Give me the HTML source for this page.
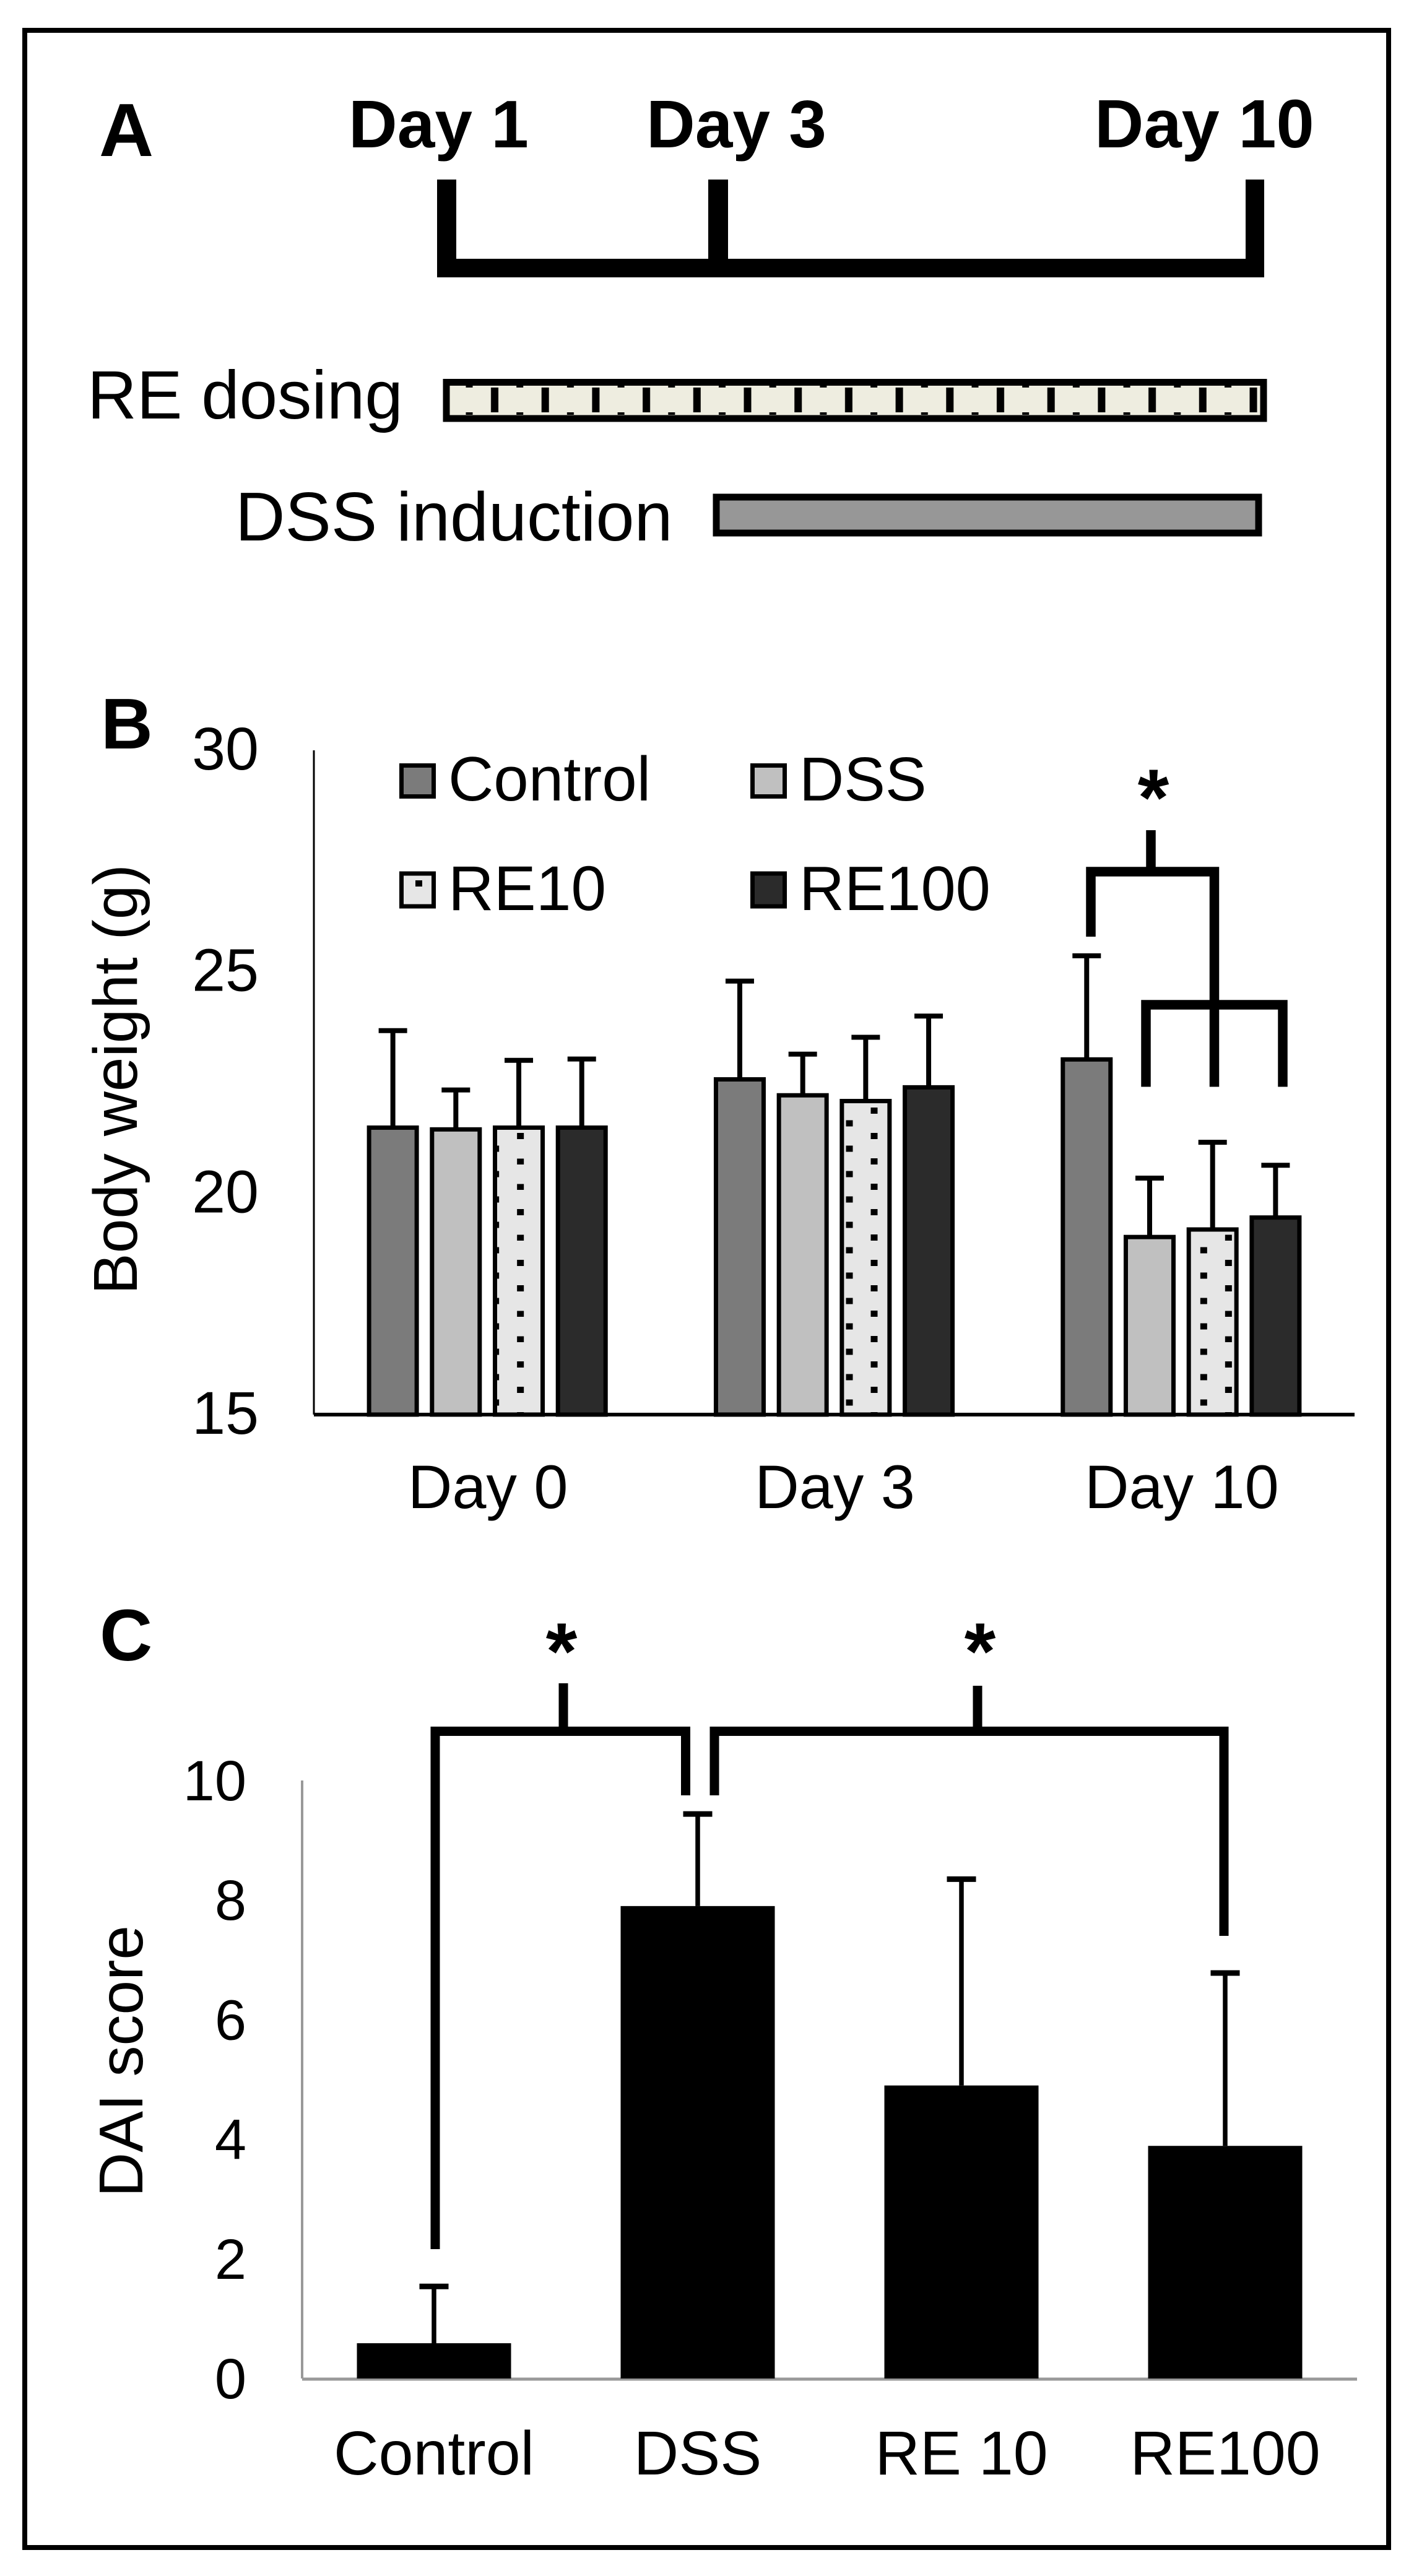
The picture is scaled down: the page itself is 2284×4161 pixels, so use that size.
<!DOCTYPE html>
<html lang="en">
<head>
<meta charset="utf-8">
<title>Body weight and DAI score figure</title>
<style>
html,body{margin:0;padding:0;background:#fff;}
svg{display:block;}
text{font-family:"Liberation Sans",Arial,sans-serif;fill:#000;}
.b{font-weight:bold;}
</style>
</head>
<body>
<svg id="fig" xmlns="http://www.w3.org/2000/svg" width="2284" height="4161" viewBox="0 0 2284 4161">
  <defs>
    <pattern id="ticks" patternUnits="userSpaceOnUse" x="728" y="622" width="81.7" height="48">
      <rect x="65" y="4" width="12" height="40" fill="#000"/>
      <rect x="24.5" y="0" width="11" height="4" fill="#000"/>
      <rect x="24.5" y="44" width="11" height="4" fill="#000"/>
    </pattern>
  </defs>
  <rect x="0" y="0" width="2284" height="4161" fill="#fff"/>
  <rect x="40" y="49" width="2203" height="4066" fill="none" stroke="#000" stroke-width="8"/>

  <g>
    <text class="b" x="160" y="252" font-size="122">A</text>
    <text class="b" x="563" y="238" font-size="109">Day 1</text>
    <text class="b" x="1044" y="238" font-size="109">Day 3</text>
    <text class="b" x="1768" y="238" font-size="110">Day 10</text>
    <path d="M706 290H737V418H1144V290H1176V418H2012V290H2042V448H706Z" fill="#000"/>
    <text x="141" y="676" font-size="110.5">RE dosing</text>
    <rect x="721" y="617.5" width="1320" height="58.5" fill="#eeede0" stroke="#000" stroke-width="11"/>
    <rect x="728" y="622" width="1306" height="48" fill="url(#ticks)"/>
    <text x="380" y="873" font-size="111.5">DSS induction</text>
    <rect x="1157" y="803" width="876" height="58" fill="#979797" stroke="#000" stroke-width="11"/>
  </g>

  <g id="panelB">
    <text class="b" x="163" y="1209" font-size="116">B</text>
    <text transform="translate(221 2091) rotate(-90)" font-size="100">Body weight (g)</text>
    <g>
      <rect x="648.5" y="1236.5" width="52" height="50" fill="#7b7b7b" stroke="#000" stroke-width="7"/>
      <text x="724" y="1293" font-size="101.5">Control</text>
      <rect x="1215.5" y="1236.5" width="52" height="50" fill="#c0c0c0" stroke="#000" stroke-width="7"/>
      <text x="1291" y="1293" font-size="100">DSS</text>
      <rect x="648.5" y="1411" width="52" height="53" fill="#e6e6e6" stroke="#000" stroke-width="7"/>
      <rect x="671" y="1422" width="11" height="10" fill="#000"/>
      <text x="724" y="1470" font-size="102">RE10</text>
      <rect x="1215.5" y="1411" width="52" height="53" fill="#2b2b2b" stroke="#000" stroke-width="7"/>
      <text x="1291" y="1470" font-size="101">RE100</text>
    </g>
  </g>

  <g id="panelC">
    <text class="b" x="161" y="2682" font-size="118">C</text>
    <text transform="translate(230 3549) rotate(-90)" font-size="100">DAI score</text>
  </g>

  <g>
    <path d="M1762 1513V1408H1961.5V1623M1859 1341V1408M1851 1755.5V1623H2072V1755.5M1961.5 1623V1755.5" fill="none" stroke="#000" stroke-width="15.5"/>
    <text class="b" x="1863" y="1333" font-size="130" text-anchor="middle">*</text>
    <path d="M703 3633V2796.5H1107.5V2900M910 2719V2796.5" fill="none" stroke="#000" stroke-width="15"/>
    <path d="M1154 2900V2796.5H1977V3127M1579 2723V2796.5" fill="none" stroke="#000" stroke-width="15"/>
    <text class="b" x="907" y="2712" font-size="130" text-anchor="middle">*</text>
    <text class="b" x="1583" y="2712" font-size="130" text-anchor="middle">*</text>
  </g>
</svg>

<script>
// Panel B data
const weightDays = ['Day 0', 'Day 3', 'Day 10'];
const weightTicks = [15, 20, 25, 30];
const controlWeight = [21.48, 22.57, 23.02];
const dssWeight = [21.44, 22.21, 19.01];
const re10Weight = [21.48, 22.08, 19.18];
const re100Weight = [21.48, 22.39, 19.45];
const controlWeightErr = [2.19, 2.22, 2.34];
const dssWeightErr = [0.89, 0.93, 1.33];
const re10WeightErr = [1.52, 1.44, 1.97];
const re100WeightErr = [1.55, 1.61, 1.18];
const weightSeriesNames = ['control', 'dss', 're10', 're100'];

// Panel C data
const daiGroups = ['Control', 'DSS', 'RE 10', 'RE100'];
const daiTicks = [0, 2, 4, 6, 8, 10];
const daiValues = [0.59, 7.9, 4.9, 3.89];
const daiErrors = [0.95, 1.54, 3.45, 2.89];

const SVGNS = 'http://www.w3.org/2000/svg';
function make(parent, tag, attrs, txt) {
  const el = document.createElementNS(SVGNS, tag);
  for (const k in attrs) el.setAttribute(k, attrs[k]);
  if (txt !== undefined) el.textContent = txt;
  parent.appendChild(el);
  return el;
}

// ---------- Panel B ----------
(function () {
  const g = document.getElementById('panelB');
  const fig = document.getElementById('fig');
  const defs = fig.querySelector('defs');
  const y = v => 2285 + (v - 15) * (1212 - 2285) / 15;
  const left = 507, right = 2188;
  const band = (right - left) / weightDays.length;
  const cx = i => left + band * (i + 0.5);
  const series = [controlWeight, dssWeight, re10Weight, re100Weight];
  const errs = [controlWeightErr, dssWeightErr, re10WeightErr, re100WeightErr];
  const fills = ['#7b7b7b', '#c0c0c0', '#e6e6e6', '#2b2b2b'];
  const step = 101.7, outerW = 84, sw = 7;
  const dotPhase = [42, 53, 65];

  weightTicks.forEach(t => {
    const el = make(g, 'text', { x: 418, y: y(t) + 31, 'font-size': 97, 'text-anchor': 'end' }, String(t));
    
    
  });

  weightDays.forEach((d, i) => {
    const p = make(defs, 'pattern', {
      id: 'dots' + i, patternUnits: 'userSpaceOnUse',
      x: cx(i) + 11 + dotPhase[i] - 5, y: 1830, width: 80, height: 41
    });
    make(p, 'rect', { x: 0, y: 0, width: 11, height: 10, fill: '#000' });
    make(p, 'rect', { x: 40, y: 20.5, width: 11, height: 10, fill: '#000' });
    make(p, 'rect', { x: 40, y: -20.5, width: 11, height: 10, fill: '#000' });

    series.forEach((vals, s) => {
      const bx = cx(i) + (s - 1.5) * step;
      const x0 = bx - outerW / 2 + sw / 2;
      const w = outerW - sw;
      const topY = y(vals[i]);
      const h = y(15) - topY;
      const eTop = y(vals[i] + errs[s][i]);

      const stem = make(g, 'line', { x1: bx, x2: bx, y1: topY, y2: eTop, stroke: '#000', 'stroke-width': 8 });
      
      

      const cap = make(g, 'line', { x1: bx - 23, x2: bx + 23, y1: eTop, y2: eTop, stroke: '#000', 'stroke-width': 8 });
      
      

      const bar = make(g, 'rect', { x: x0, y: topY, width: w, height: h, fill: fills[s], stroke: '#000', 'stroke-width': sw });
      
      

      if (s === 2) {
        const dots = make(g, 'rect', { x: x0 + sw / 2 - 3, y: topY + sw / 2, width: w - sw + 3, height: h - sw / 2, fill: 'url(#dots' + i + ')' });
        
        
      }
    });

    const lab = make(g, 'text', { x: cx(i) + 1, y: 2436, 'font-size': 99, 'text-anchor': 'middle' }, d);
    
    
  });

  const yAxis = make(g, 'line', { x1: left, x2: left, y1: y(30), y2: y(15), stroke: '#000', 'stroke-width': 3 });
  
  

  const xAxis = make(g, 'line', { x1: left, x2: right, y1: y(15), y2: y(15), stroke: '#000', 'stroke-width': 6 });
  
  
})();

// ---------- Panel C ----------
(function () {
  const g = document.getElementById('panelC');
  const y = v => 3842 + v * (2876 - 3842) / 10;
  const left = 488, right = 2192;
  const band = (right - left) / daiGroups.length;
  const cx = i => left + band * (i + 0.5);
  const barW = 249;

  daiTicks.forEach(t => {
    const el = make(g, 'text', { x: 398, y: y(t) + 32, 'font-size': 92, 'text-anchor': 'end' }, String(t));
    
    
  });

  const yAxis = make(g, 'line', { x1: left, x2: left, y1: y(10), y2: y(0), stroke: '#999', 'stroke-width': 4 });
  
  

  const xAxis = make(g, 'line', { x1: left, x2: right, y1: y(0) + 1, y2: y(0) + 1, stroke: '#999', 'stroke-width': 5 });
  
  

  daiGroups.forEach((d, i) => {
    const key = d.replace(' ', '').toLowerCase();
    const topY = y(daiValues[i]);
    const eTop = y(daiValues[i] + daiErrors[i]);

    const stem = make(g, 'line', { x1: cx(i), x2: cx(i), y1: topY, y2: eTop, stroke: '#000', 'stroke-width': 7.5 });
    
    

    const cap = make(g, 'line', { x1: cx(i) - 23.5, x2: cx(i) + 23.5, y1: eTop, y2: eTop, stroke: '#000', 'stroke-width': 9 });
    
    

    const bar = make(g, 'rect', { x: cx(i) - barW / 2, y: topY, width: barW, height: y(0) - topY, fill: '#000' });
    
    

    const lab = make(g, 'text', { x: cx(i), y: 3997, 'font-size': 100.5, 'text-anchor': 'middle' }, d);
    
    
  });
})();
</script>
</body>
</html>
